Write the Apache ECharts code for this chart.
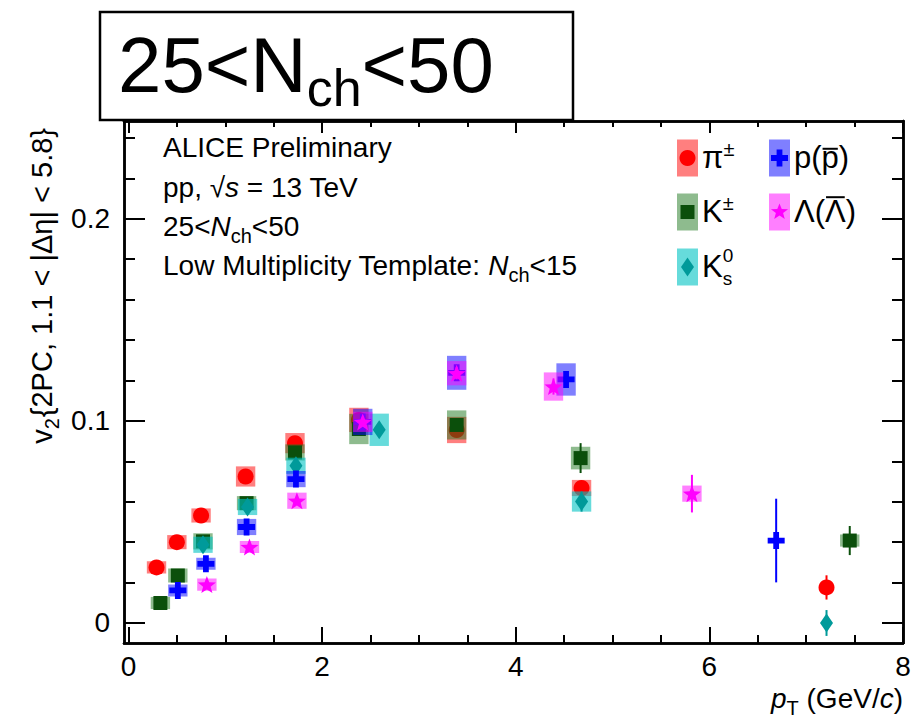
<!DOCTYPE html>
<html>
<head>
<meta charset="utf-8">
<script src="https://cdn.jsdelivr.net/npm/echarts@6/dist/echarts.min.js"></script>
<style>
  html, body { margin: 0; padding: 0; background: #fff; }
  #chart { width: 912px; height: 721px; }
</style>
</head>
<body>
<div id="chart"></div>
<script>
// v2{2PC} versus pT for identified hadrons, 25 < Nch < 50, pp at 13 TeV.
// Each species: pT (GeV/c), v2, statistical and systematic uncertainties.
const pionPt   = [0.29, 0.50, 0.75, 1.21, 1.72, 2.38, 3.39, 4.68, 7.21];
const pionV2   = [0.0275, 0.0400, 0.0532, 0.0725, 0.0890, 0.1005, 0.0955, 0.0668, 0.0176];
const pionStat = [0.0005, 0.0005, 0.0006, 0.0008, 0.0010, 0.0015, 0.0020, 0.0025, 0.0060];
const pionSys  = [0.0030, 0.0035, 0.0035, 0.0050, 0.0050, 0.0060, 0.0065, 0.0040, 0];

const kaonPt   = [0.33, 0.51, 0.77, 1.22, 1.72, 2.38, 3.39, 4.67, 7.45];
const kaonV2   = [0.0099, 0.0235, 0.0404, 0.0593, 0.0844, 0.0960, 0.0980, 0.0816, 0.0408];
const kaonStat = [0.0005, 0.0006, 0.0007, 0.0010, 0.0012, 0.0018, 0.0025, 0.0074, 0.0072];
const kaonSys  = [0.0030, 0.0035, 0.0040, 0.0035, 0.0040, 0.0075, 0.0072, 0.0056, 0.0030];

const k0sPt    = [0.77, 1.23, 1.73, 2.59, 4.68, 7.21];
const k0sV2    = [0.0387, 0.0574, 0.0778, 0.0956, 0.0601, 0.0000];
const k0sStat  = [0.0008, 0.0010, 0.0012, 0.0020, 0.0050, 0.0064];
const k0sSys   = [0.0040, 0.0040, 0.0040, 0.0080, 0.0050, 0];

const protonPt   = [0.51, 0.80, 1.22, 1.73, 2.42, 3.39, 4.52, 6.69];
const protonV2   = [0.0161, 0.0293, 0.0475, 0.0712, 0.0995, 0.1238, 0.1205, 0.0408];
const protonStat = [0.0010, 0.0010, 0.0010, 0.0015, 0.0020, 0.0030, 0.0030, 0.0207];
const protonSys  = [0.0030, 0.0030, 0.0040, 0.0040, 0.0065, 0.0084, 0.0080, 0];

const lambdaPt   = [0.81, 1.25, 1.74, 2.42, 3.39, 4.39, 5.82];
const lambdaV2   = [0.0190, 0.0376, 0.0605, 0.0995, 0.1236, 0.1170, 0.0640];
const lambdaStat = [0.0010, 0.0012, 0.0015, 0.0020, 0.0030, 0.0040, 0.0093];
const lambdaSys  = [0.0030, 0.0030, 0.0040, 0.0050, 0.0060, 0.0070, 0.0040];

// Axis ticks and labels
const xMajorTicks = [0, 2, 4, 6, 8];
const xMinorTicks = [0.5, 1, 1.5, 2.5, 3, 3.5, 4.5, 5, 5.5, 6.5, 7, 7.5];
const yMajorTicks = [0, 0.1, 0.2];
const yMinorTicks = [0.02, 0.04, 0.06, 0.08, 0.12, 0.14, 0.16, 0.18, 0.22, 0.24];

const X_MIN = -0.046, X_MAX = 8;
const Y_MIN = -0.0099, Y_MAX = 0.2484;
const BOX_HALF = 0.1;           // half-width of systematic boxes, GeV/c
const FONT = '"Liberation Sans", Arial, Helvetica, sans-serif';

// ---- marker shapes -------------------------------------------------------
const CROSS_PTS = [[33,0],[67,0],[67,33],[100,33],[100,67],[67,67],[67,100],[33,100],[33,67],[0,67],[0,33],[33,33]];
function starPts() {
  const pts = [];
  for (let i = 0; i < 10; i++) {
    const r = i % 2 === 0 ? 50 : 21;
    const a = -Math.PI / 2 + i * Math.PI / 5;
    pts.push([50 + r * Math.cos(a), 50 + r * Math.sin(a)]);
  }
  return pts;
}
const STAR_PTS = starPts();
const toPath = pts => 'path://' + pts.map((p, i) => (i ? 'L' : 'M') + p[0].toFixed(2) + ',' + p[1].toFixed(2)).join(' ') + ' Z';

const species = [
  { pt: pionPt,   v2: pionV2,   stat: pionStat,   sys: pionSys,   color: '#ff0000', box: 'rgba(255,0,0,0.5)',
    symbol: 'circle', size: 16 },
  { pt: kaonPt,   v2: kaonV2,   stat: kaonStat,   sys: kaonSys,   color: '#0b4f0b', box: 'rgba(30,120,30,0.5)',
    symbol: 'rect', size: 14 },
  { pt: k0sPt,    v2: k0sV2,    stat: k0sStat,    sys: k0sSys,    color: '#009a9a', box: 'rgba(0,195,195,0.6)',
    symbol: 'diamond', size: [13, 19] },
  { pt: protonPt, v2: protonV2, stat: protonStat, sys: protonSys, color: '#0000ff', box: 'rgba(0,0,255,0.5)',
    symbol: toPath(CROSS_PTS), size: 17 },
  { pt: lambdaPt, v2: lambdaV2, stat: lambdaStat, sys: lambdaSys, color: '#ff00ff', box: 'rgba(255,0,255,0.5)',
    symbol: toPath(STAR_PTS), size: [18, 17] }
];

// ---- series: systematic boxes + stat bars, then markers -------------------
const series = [];
species.forEach((sp, k) => {
  series.push({
    type: 'custom', xAxisIndex: 0, yAxisIndex: 0, z: 2 + 2 * k, silent: true,
    data: sp.pt.map((x, i) => [x, sp.v2[i], sp.stat[i], sp.sys[i]]),
    renderItem(params, api) {
      const x = api.value(0), y = api.value(1), e = api.value(2), s = api.value(3);
      const children = [];
      if (s > 0) {
        const a = api.coord([x - BOX_HALF, y + s]);
        const b = api.coord([x + BOX_HALF, y - s]);
        children.push({ type: 'rect', shape: { x: a[0], y: a[1], width: b[0] - a[0], height: b[1] - a[1] },
          style: { fill: sp.box } });
      }
      const t = api.coord([x, y + e]), d = api.coord([x, y - e]);
      children.push({ type: 'line', shape: { x1: t[0], y1: t[1], x2: d[0], y2: d[1] },
        style: { stroke: sp.color, lineWidth: 2 } });
      return { type: 'group', children };
    }
  });
  series.push({
    type: 'scatter', xAxisIndex: 0, yAxisIndex: 0, z: 3 + 2 * k, silent: true,
    data: sp.pt.map((x, i) => [x, sp.v2[i]]),
    symbol: sp.symbol, symbolSize: sp.size,
    itemStyle: { color: sp.color, opacity: 1 },
    emphasis: { disabled: true }
  });
});

// ---- axes (frame with ticks on all four sides) ---------------------------
function axisCommon(ticks, len, labelOpt) {
  return {
    type: 'value',
    axisLine: { show: true, onZero: false, lineStyle: { color: '#000', width: 2.5 } },
    axisTick: { show: true, inside: true, length: len, customValues: ticks, lineStyle: { color: '#000', width: 2 } },
    axisLabel: labelOpt || { show: false },
    splitLine: { show: false },
    minorTick: { show: false }
  };
}
const xLabel = { show: true, customValues: xMajorTicks, fontSize: 28, color: '#000', fontFamily: FONT, margin: 9 };
const yLabel = { show: true, customValues: yMajorTicks, fontSize: 28, color: '#000', fontFamily: FONT, margin: 14,
  formatter: v => (Math.abs(v) < 1e-9 ? '0' : v.toFixed(1)) };

const xAxes = [
  Object.assign(axisCommon(xMajorTicks, 16, xLabel), { position: 'bottom', min: X_MIN, max: X_MAX }),
  Object.assign(axisCommon(xMinorTicks, 8), { position: 'bottom', min: X_MIN, max: X_MAX }),
  Object.assign(axisCommon(xMajorTicks, 12), { position: 'top', min: X_MIN, max: X_MAX }),
  Object.assign(axisCommon(xMinorTicks, 6), { position: 'top', min: X_MIN, max: X_MAX })
];
const yAxes = [
  Object.assign(axisCommon(yMajorTicks, 21, yLabel), { position: 'left', min: Y_MIN, max: Y_MAX }),
  Object.assign(axisCommon(yMinorTicks, 11), { position: 'left', min: Y_MIN, max: Y_MAX }),
  Object.assign(axisCommon(yMajorTicks, 21), { position: 'right', min: Y_MIN, max: Y_MAX }),
  Object.assign(axisCommon(yMinorTicks, 11), { position: 'right', min: Y_MIN, max: Y_MAX })
];

// ---- text with sub/superscripts, laid out from measured widths -----------
const mctx = document.createElement('canvas').getContext('2d');
const fontStr = (s, it) => (it ? 'italic ' : '') + s + 'px ' + FONT;
function textWidth(t, s, it) { mctx.font = fontStr(s, it); return mctx.measureText(t).width; }
const BASE_K = 0.347; // em-middle to alphabetic baseline

// parts: {t, s, it, dy (baseline shift, +down), stack (start at previous part's x), gap}
function layoutRun(parts) {
  let cursor = 0, lastX = 0;
  const placed = parts.map(p => {
    const w = textWidth(p.t, p.s, p.it);
    const px = p.stack ? lastX : cursor + (p.gap || 0);
    lastX = px;
    cursor = Math.max(cursor, px + w);
    return Object.assign({}, p, { px, w });
  });
  return { placed, width: cursor };
}
function runElements(placed, x0, base, z) {
  return placed.map(p => ({
    type: 'text', x: x0 + p.px, y: base + (p.dy || 0) - BASE_K * p.s, z: z || 100,
    style: { text: p.t, font: fontStr(p.s, p.it), fill: '#000',
      align: 'left', verticalAlign: 'middle', textAlign: 'left', textVerticalAlign: 'middle' }
  }));
}
function textRun(parts, x0, base, align) {
  const r = layoutRun(parts);
  const start = align === 'right' ? x0 - r.width : x0;
  return runElements(r.placed, start, base);
}

const graphics = [];

// header box
graphics.push({ type: 'rect', z: 90, shape: { x: 100, y: 12, width: 473, height: 108 },
  style: { fill: '#fff', stroke: '#000', lineWidth: 2.5 } });
graphics.push(...textRun([
  { t: '25<N', s: 78 }, { t: 'ch', s: 52, dy: 14 }, { t: '<50', s: 78 }
], 118, 92.5));

// info block
const INFO = 28, INFO_SUB = 20;
graphics.push(...textRun([{ t: 'ALICE Preliminary', s: INFO }], 163, 157.5));
graphics.push(...textRun([
  { t: 'pp, ', s: INFO }, { t: '\u221A', s: INFO }, { t: 's', s: INFO, it: true }, { t: ' = 13 TeV', s: INFO }
], 163, 197.5));
graphics.push(...textRun([
  { t: '25<', s: INFO }, { t: 'N', s: INFO, it: true }, { t: 'ch', s: INFO_SUB, dy: 7 }, { t: '<50', s: INFO }
], 163, 236));
graphics.push(...textRun([
  { t: 'Low Multiplicity Template: ', s: INFO }, { t: 'N', s: INFO, it: true },
  { t: 'ch', s: INFO_SUB, dy: 7 }, { t: '<15', s: INFO }
], 163, 275));

// axis titles
graphics.push(...textRun([
  { t: 'p', s: INFO, it: true }, { t: 'T', s: INFO_SUB, dy: 7 }, { t: ' (GeV/', s: INFO },
  { t: 'c', s: INFO, it: true }, { t: ')', s: INFO }
], 903, 708, 'right'));

const yTitle = layoutRun([
  { t: 'v', s: 29 }, { t: '2', s: INFO_SUB, dy: 7 }, { t: '{2PC, 1.1 < |\u0394\u03B7| < 5.8}', s: 29, gap: 1 }
]);
graphics.push({
  type: 'group', x: 52, y: 128 + yTitle.width, rotation: Math.PI / 2, z: 100,
  children: runElements(yTitle.placed, 0, 0)
});

// legend
const LEG = 31, LEG_SMALL = 20;
function legendMarker(k, cx, cy) {
  const sp = species[k];
  const fill = { fill: sp.color };
  if (sp.symbol === 'circle') return { type: 'circle', z: 101, shape: { cx, cy, r: 8 }, style: fill };
  if (sp.symbol === 'rect') return { type: 'rect', z: 101, shape: { x: cx - 7, y: cy - 7, width: 14, height: 14 }, style: fill };
  if (sp.symbol === 'diamond') return { type: 'polygon', z: 101,
    shape: { points: [[cx, cy - 9.5], [cx + 6.5, cy], [cx, cy + 9.5], [cx - 6.5, cy]] }, style: fill };
  const pts = k === 3 ? CROSS_PTS : STAR_PTS;
  const w = k === 3 ? 17 : 18, h = 17;
  return { type: 'polygon', z: 101,
    shape: { points: pts.map(p => [cx - w / 2 + p[0] * w / 100, cy - h / 2 + p[1] * h / 100]) }, style: fill };
}
function legendEntry(k, bx, cy, parts, bars) {
  graphics.push({ type: 'rect', z: 100, shape: { x: bx, y: cy - 18.5, width: 21, height: 37 },
    style: { fill: species[k].box } });
  graphics.push(legendMarker(k, bx + 10.5, cy));
  const r = layoutRun(parts);
  const lx = bx + 25, base = cy + 10;
  graphics.push(...runElements(r.placed, lx, base));
  (bars || []).forEach(b => {
    const p = r.placed[b.idx];
    graphics.push({ type: 'line', z: 100,
      shape: { x1: lx + p.px + 1, y1: base - b.h * LEG, x2: lx + p.px + p.w - 1, y2: base - b.h * LEG },
      style: { stroke: '#000', lineWidth: 2 } });
  });
}
legendEntry(0, 677, 158, [{ t: '\u03C0', s: LEG }, { t: '\u00B1', s: LEG_SMALL, dy: -12 }]);
legendEntry(1, 677, 212, [{ t: 'K', s: LEG }, { t: '\u00B1', s: LEG_SMALL, dy: -12 }]);
legendEntry(2, 677, 267, [{ t: 'K', s: LEG }, { t: '0', s: 19, dy: -15 }, { t: 's', s: 19, dy: 8, stack: true }]);
legendEntry(3, 769, 158, [{ t: 'p(', s: LEG }, { t: 'p', s: LEG }, { t: ')', s: LEG }], [{ idx: 1, h: 0.62 }]);
legendEntry(4, 769, 212, [{ t: '\u039B(', s: LEG }, { t: '\u039B', s: LEG }, { t: ')', s: LEG }], [{ idx: 1, h: 0.80 }]);

// ---- chart ---------------------------------------------------------------
const chart = echarts.init(document.getElementById('chart'), null, { renderer: 'svg', width: 912, height: 721 });
chart.setOption({
  backgroundColor: '#fff',
  animation: false,
  grid: { left: 124, right: 9, top: 121, bottom: 78, containLabel: false, outerBoundsMode: 'none' },
  xAxis: xAxes,
  yAxis: yAxes,
  series,
  graphic: { elements: graphics }
});
</script>
</body>
</html>
